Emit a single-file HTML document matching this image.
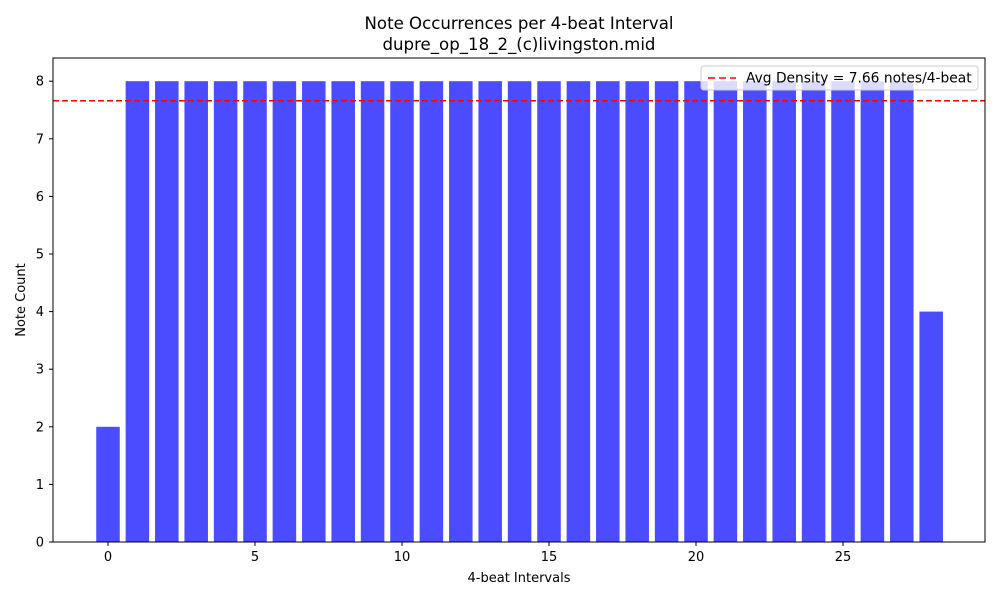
<!DOCTYPE html>
<html><head><meta charset="utf-8"><style>
body{margin:0;background:#fff;font-family:"Liberation Sans","DejaVu Sans",sans-serif}
svg text{font-family:"DejaVu Sans","Liberation Sans",sans-serif}
</style></head><body>
<svg id="chart" width="1000" height="600" xmlns="http://www.w3.org/2000/svg">
<rect width="1000" height="600" fill="#fff"/>
<text x="519" y="29" text-anchor="middle" font-size="16.6">Note Occurrences per 4-beat Interval</text>
<text x="519" y="50" text-anchor="middle" font-size="16.6">dupre_op_18_2_(c)livingston.mid</text>
<g id="bars"></g>
<g id="xticks"></g>
<g id="yticks"></g>
<line id="avg" stroke="red" stroke-width="1.5" stroke-dasharray="6,3"/>
<rect x="53" y="58" width="932" height="484" fill="none" stroke="#000" stroke-width="1"/>
<text x="519" y="582" text-anchor="middle" font-size="13">4-beat Intervals</text>
<text transform="translate(25,300) rotate(-90)" text-anchor="middle" font-size="13">Note Count</text>
<g>
<rect x="701" y="66" width="277" height="24" rx="3" fill="#fff" fill-opacity="0.8" stroke="#ccc"/>
<line x1="708" y1="78" x2="736" y2="78" stroke="red" stroke-width="1.5" stroke-dasharray="7,4"/>
<text id="legtext" x="746" y="82.5" font-size="13.8"></text>
</g>
</svg>
<script>
const categories=[0,1,2,3,4,5,6,7,8,9,10,11,12,13,14,15,16,17,18,19,20,21,22,23,24,25,26,27,28];
const counts=[2,8,8,8,8,8,8,8,8,8,8,8,8,8,8,8,8,8,8,8,8,8,8,8,8,8,8,8,4];
const avgDensity=[7.66];
const xTicks=[0,5,10,15,20,25];
const yTicks=[0,1,2,3,4,5,6,7,8];
const NS="http://www.w3.org/2000/svg";
const X=v=>108+v*29.4, Y=v=>542-v*57.6;
const bars=document.getElementById('bars');
categories.forEach((c,i)=>{
 const r=document.createElementNS(NS,'rect');
 r.setAttribute('x',X(c-0.4));r.setAttribute('width',29.4*0.8);
 r.setAttribute('y',Y(counts[i]));r.setAttribute('height',Y(0)-Y(counts[i]));
 r.setAttribute('fill','#4b4bff');
 
 
 bars.appendChild(r);
});
const xt=document.getElementById('xticks');
xTicks.forEach(t=>{
 const l=document.createElementNS(NS,'line');
 l.setAttribute('x1',X(t));l.setAttribute('x2',X(t));l.setAttribute('y1',542);l.setAttribute('y2',546);l.setAttribute('stroke','#000');
 
 
 xt.appendChild(l);
 const s=document.createElementNS(NS,'text');
 s.setAttribute('x',X(t));s.setAttribute('y',561);s.setAttribute('text-anchor','middle');s.setAttribute('font-size','13');s.textContent=t;
 
 
 xt.appendChild(s);
});
const yt=document.getElementById('yticks');
yTicks.forEach(t=>{
 const l=document.createElementNS(NS,'line');
 l.setAttribute('x1',49);l.setAttribute('x2',53);l.setAttribute('y1',Y(t));l.setAttribute('y2',Y(t));l.setAttribute('stroke','#000');
 
 
 yt.appendChild(l);
 const s=document.createElementNS(NS,'text');
 s.setAttribute('x',44);s.setAttribute('y',Y(t)+4.5);s.setAttribute('text-anchor','end');s.setAttribute('font-size','13');s.textContent=t;
 
 
 yt.appendChild(s);
});
const a=document.getElementById('avg');
a.setAttribute('x1',53);a.setAttribute('x2',985);a.setAttribute('y1',Y(avgDensity[0]));a.setAttribute('y2',Y(avgDensity[0]));
document.getElementById('legtext').textContent='Avg Density = '+avgDensity[0].toFixed(2)+' notes/4-beat';
</script>
</body></html>
